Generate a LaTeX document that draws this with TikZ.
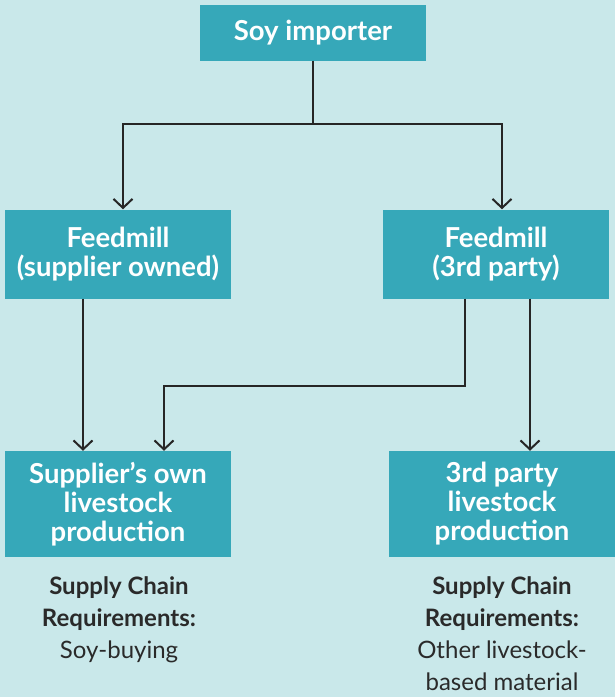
\documentclass[tikz,border=0pt]{standalone}
\usepackage{fontspec}
\setmainfont{Lato}
\usetikzlibrary{arrows.meta}
\definecolor{bgc}{HTML}{C9E8EA}
\definecolor{boxc}{HTML}{36A8B9}
\definecolor{linec}{HTML}{262626}
\definecolor{txtc}{HTML}{2A2A2A}
\begin{document}
\begin{tikzpicture}[x=1pt,y=-1pt,
  box/.style={fill=boxc, draw=none, text=white, align=center, inner sep=0pt,
    font=\fontsize{27.5}{29}\selectfont\bfseries},
  conn/.style={draw=linec, line width=2pt, -{Straight Barb[length=9pt,width=19pt,line width=2pt]}},
  req/.style={text=txtc, align=center, anchor=north, inner sep=0pt,
    font=\fontsize{24}{32}\selectfont}]
\fill[bgc] (0,0) rectangle (615,697);
\useasboundingbox (0,0) rectangle (615,697);
\node[box, minimum width=226pt, minimum height=56pt] (imp) at (313,32.5) {Soy importer};
\node[box, minimum width=226pt, minimum height=89pt] (fl) at (118,254) {Feedmill\\(supplier owned)};
\node[box, minimum width=226pt, minimum height=89pt] (fr) at (496,254) {Feedmill\\(3rd party)};
\node[box, minimum width=226pt, minimum height=106pt] (pl) at (118,504) {Supplier’s own\\livestock\\production};
\node[box, minimum width=226pt, minimum height=106pt] (pr) at (502,504) {3rd party\\livestock\\production};
\node[req] (rl) at (119,576) {\textbf{Supply Chain}\\\textbf{Requirements:}\\Soy-buying};
\node[req] (rr) at (502,576) {\textbf{Supply Chain}\\\textbf{Requirements:}\\Other livestock-\\based material};
\coordinate (j) at (313,124);
\draw[conn] (imp.south) -- (j) -| ([xshift=5pt]fl.north);
\draw[conn] (j) -| ([xshift=6pt]fr.north);
\draw[conn] ([xshift=-35pt]fl.south) -- ([xshift=-35pt]pl.north);
\coordinate (k) at (465,386);
\draw[conn] ([xshift=-31pt]fr.south) -- (k) -| ([xshift=46pt]pl.north);
\draw[conn] ([xshift=34pt]fr.south) -- ([xshift=28pt]pr.north);
\end{tikzpicture}
\end{document}
